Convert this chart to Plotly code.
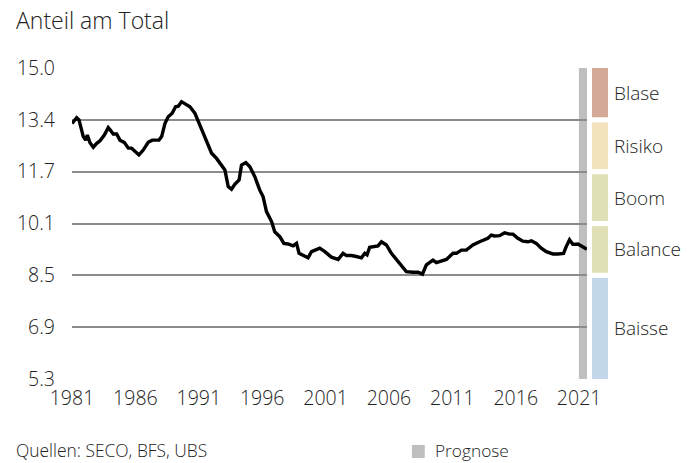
import plotly.graph_objects as go
import numpy as np

# ---- data ----
years = [1981.0, 1981.37, 1981.55, 1981.89, 1982.08, 1982.21, 1982.42, 1982.68, 1982.95, 1983.21,
         1983.55, 1983.86, 1984.07, 1984.25, 1984.52, 1984.78, 1985.12, 1985.44, 1985.70, 1985.96,
         1986.28, 1986.62, 1987.01, 1987.33, 1987.86, 1988.07, 1988.33, 1988.59, 1988.90, 1989.17,
         1989.38, 1989.64, 1989.85, 1990.30, 1990.69, 1990.95, 1991.22, 1991.48, 1991.74, 1992.01,
         1992.40, 1992.80, 1993.06, 1993.32, 1993.58, 1993.84, 1994.18, 1994.37, 1994.71, 1995.03,
         1995.42, 1995.81, 1996.07, 1996.34, 1996.74, 1996.99, 1997.39, 1997.71, 1998.04, 1998.44,
         1998.71, 1998.91, 1999.62, 1999.89, 2000.54, 2000.94, 2001.46, 2001.99, 2002.38, 2002.65,
         2003.04, 2003.43, 2003.83, 2004.09, 2004.27, 2004.48, 2004.88, 2005.14, 2005.41, 2005.80,
         2006.19, 2006.85, 2007.37, 2007.90, 2008.29, 2008.64, 2008.95, 2009.47, 2009.74, 2010.53,
         2011.05, 2011.32, 2011.71, 2012.10, 2012.62, 2013.15, 2013.54, 2013.80, 2014.07, 2014.33,
         2014.73, 2015.12, 2015.52, 2015.78, 2016.17, 2016.56, 2016.96, 2017.23, 2017.62, 2018.01,
         2018.41, 2018.93, 2019.32, 2019.77, 2019.98, 2020.24, 2020.50, 2020.90, 2021.24, 2021.61]
share = [13.27, 13.45, 13.38, 12.86, 12.75, 12.91, 12.67, 12.53, 12.65, 12.73,
         12.91, 13.14, 13.04, 12.94, 12.94, 12.75, 12.68, 12.50, 12.50, 12.41,
         12.29, 12.44, 12.68, 12.75, 12.75, 12.86, 13.27, 13.48, 13.59, 13.79,
         13.81, 13.95, 13.90, 13.79, 13.59, 13.33, 13.07, 12.86, 12.60, 12.34,
         12.18, 11.97, 11.82, 11.30, 11.22, 11.37, 11.51, 11.97, 12.05, 11.92,
         11.61, 11.19, 10.99, 10.52, 10.21, 9.89, 9.74, 9.53, 9.51, 9.45,
         9.53, 9.22, 9.08, 9.27, 9.38, 9.27, 9.10, 9.03, 9.22, 9.15,
         9.15, 9.12, 9.08, 9.22, 9.17, 9.41, 9.43, 9.45, 9.58, 9.48,
         9.22, 8.91, 8.65, 8.63, 8.63, 8.57, 8.86, 9.01, 8.93, 9.03,
         9.22, 9.22, 9.32, 9.32, 9.48, 9.58, 9.64, 9.69, 9.79, 9.76,
         9.77, 9.86, 9.82, 9.82, 9.69, 9.60, 9.58, 9.61, 9.53, 9.38,
         9.27, 9.20, 9.20, 9.22, 9.43, 9.64, 9.50, 9.51, 9.43, 9.35]

y_min, y_max = 5.3, 15.0
y_tickvals = list(np.linspace(y_min, y_max, 7))
y_ticktext = ["5.3", "6.9", "8.5", "10.1", "11.7", "13.4", "15.0"]
x_tickvals = [1981, 1986, 1991, 1996, 2001, 2006, 2011, 2016, 2021]
x_range = [1981, 2021.62]
forecast_start = 2020.98

band_labels = ["Baisse", "Balance", "Boom", "Risiko", "Blase"]
band_colors = ["#c3d7ea", "#dfe0b5", "#dfe0b5", "#f2e3bd", "#d4aa96"]

FONT = "Open Sans"
TXT = "#222222"
W = 300  # light weight

fig = go.Figure()
fig.add_trace(go.Scatter(x=years, y=share, mode="lines",
                         line=dict(color="black", width=3.4), hoverinfo="skip",
                         showlegend=False))

# forecast bar
fig.add_shape(type="rect", xref="x", yref="paper", x0=forecast_start, x1=x_range[1],
              y0=0, y1=1, fillcolor="#bfbfbf", line=dict(width=0), layer="between")

# regime bands (Baisse spans two tick intervals, the others one each)
gap = 0.08
for i, (lab, col) in enumerate(zip(band_labels, band_colors)):
    if i == 0:
        b0, b1 = y_tickvals[0], y_tickvals[2] - gap
    else:
        b0, b1 = y_tickvals[i + 1] + gap, y_tickvals[i + 2] - (gap if i < 4 else 0)
    fig.add_shape(type="rect", xref="paper", yref="y", x0=1.0097, x1=1.0408,
                  y0=b0, y1=b1, fillcolor=col, line=dict(width=0), layer="above")
    fig.add_annotation(xref="paper", yref="y", x=1.049, y=(b0 + b1) / 2, text=lab,
                       showarrow=False, xanchor="left", yanchor="middle",
                       font=dict(family=FONT, size=19, color=TXT, weight=W))

# title
fig.add_annotation(xref="paper", yref="paper", x=-0.113, y=1.154, text="Anteil am Total",
                   showarrow=False, xanchor="left", yanchor="middle",
                   font=dict(family=FONT, size=23, color=TXT, weight=W))
# source
fig.add_annotation(xref="paper", yref="paper", x=-0.113, y=-0.229, text="Quellen: SECO, BFS, UBS",
                   showarrow=False, xanchor="left", yanchor="middle",
                   font=dict(family=FONT, size=17.4, color=TXT, weight=W))
# legend
fig.add_shape(type="rect", xref="paper", yref="paper", x0=0.660, x1=0.685, y0=-0.254, y1=-0.212,
              fillcolor="#bfbfbf", line=dict(width=0))
fig.add_annotation(xref="paper", yref="paper", x=0.7, y=-0.229, text="Prognose",
                   showarrow=False, xanchor="left", yanchor="middle",
                   font=dict(family=FONT, size=17.3, color=TXT, weight=W))

fig.update_layout(
    width=700, height=463,
    margin=dict(l=72, r=113, t=68, b=84, autoexpand=False),
    paper_bgcolor="white", plot_bgcolor="white",
    font=dict(family=FONT, size=19, color=TXT, weight=W),
    xaxis=dict(range=x_range, tickvals=x_tickvals, showgrid=False, zeroline=False,
               showline=False, ticks="", ticklabelstandoff=5, automargin=False,
               tickfont=dict(family=FONT, size=19.5, color=TXT, weight=W)),
    yaxis=dict(range=[y_min, y_max], tickvals=y_tickvals, ticktext=y_ticktext,
               showgrid=True, gridcolor="#8c8c8c", gridwidth=1.6, zeroline=False,
               showline=False, ticks="", ticklabelstandoff=16, automargin=False,
               tickfont=dict(family=FONT, size=19.5, color=TXT, weight=W)),
)

# remove the page's default body margin so the figure fills the 700x463 window exactly
fig.write_html("out.html", config={"displayModeBar": False},
               post_script="document.body.style.margin='0px';")
